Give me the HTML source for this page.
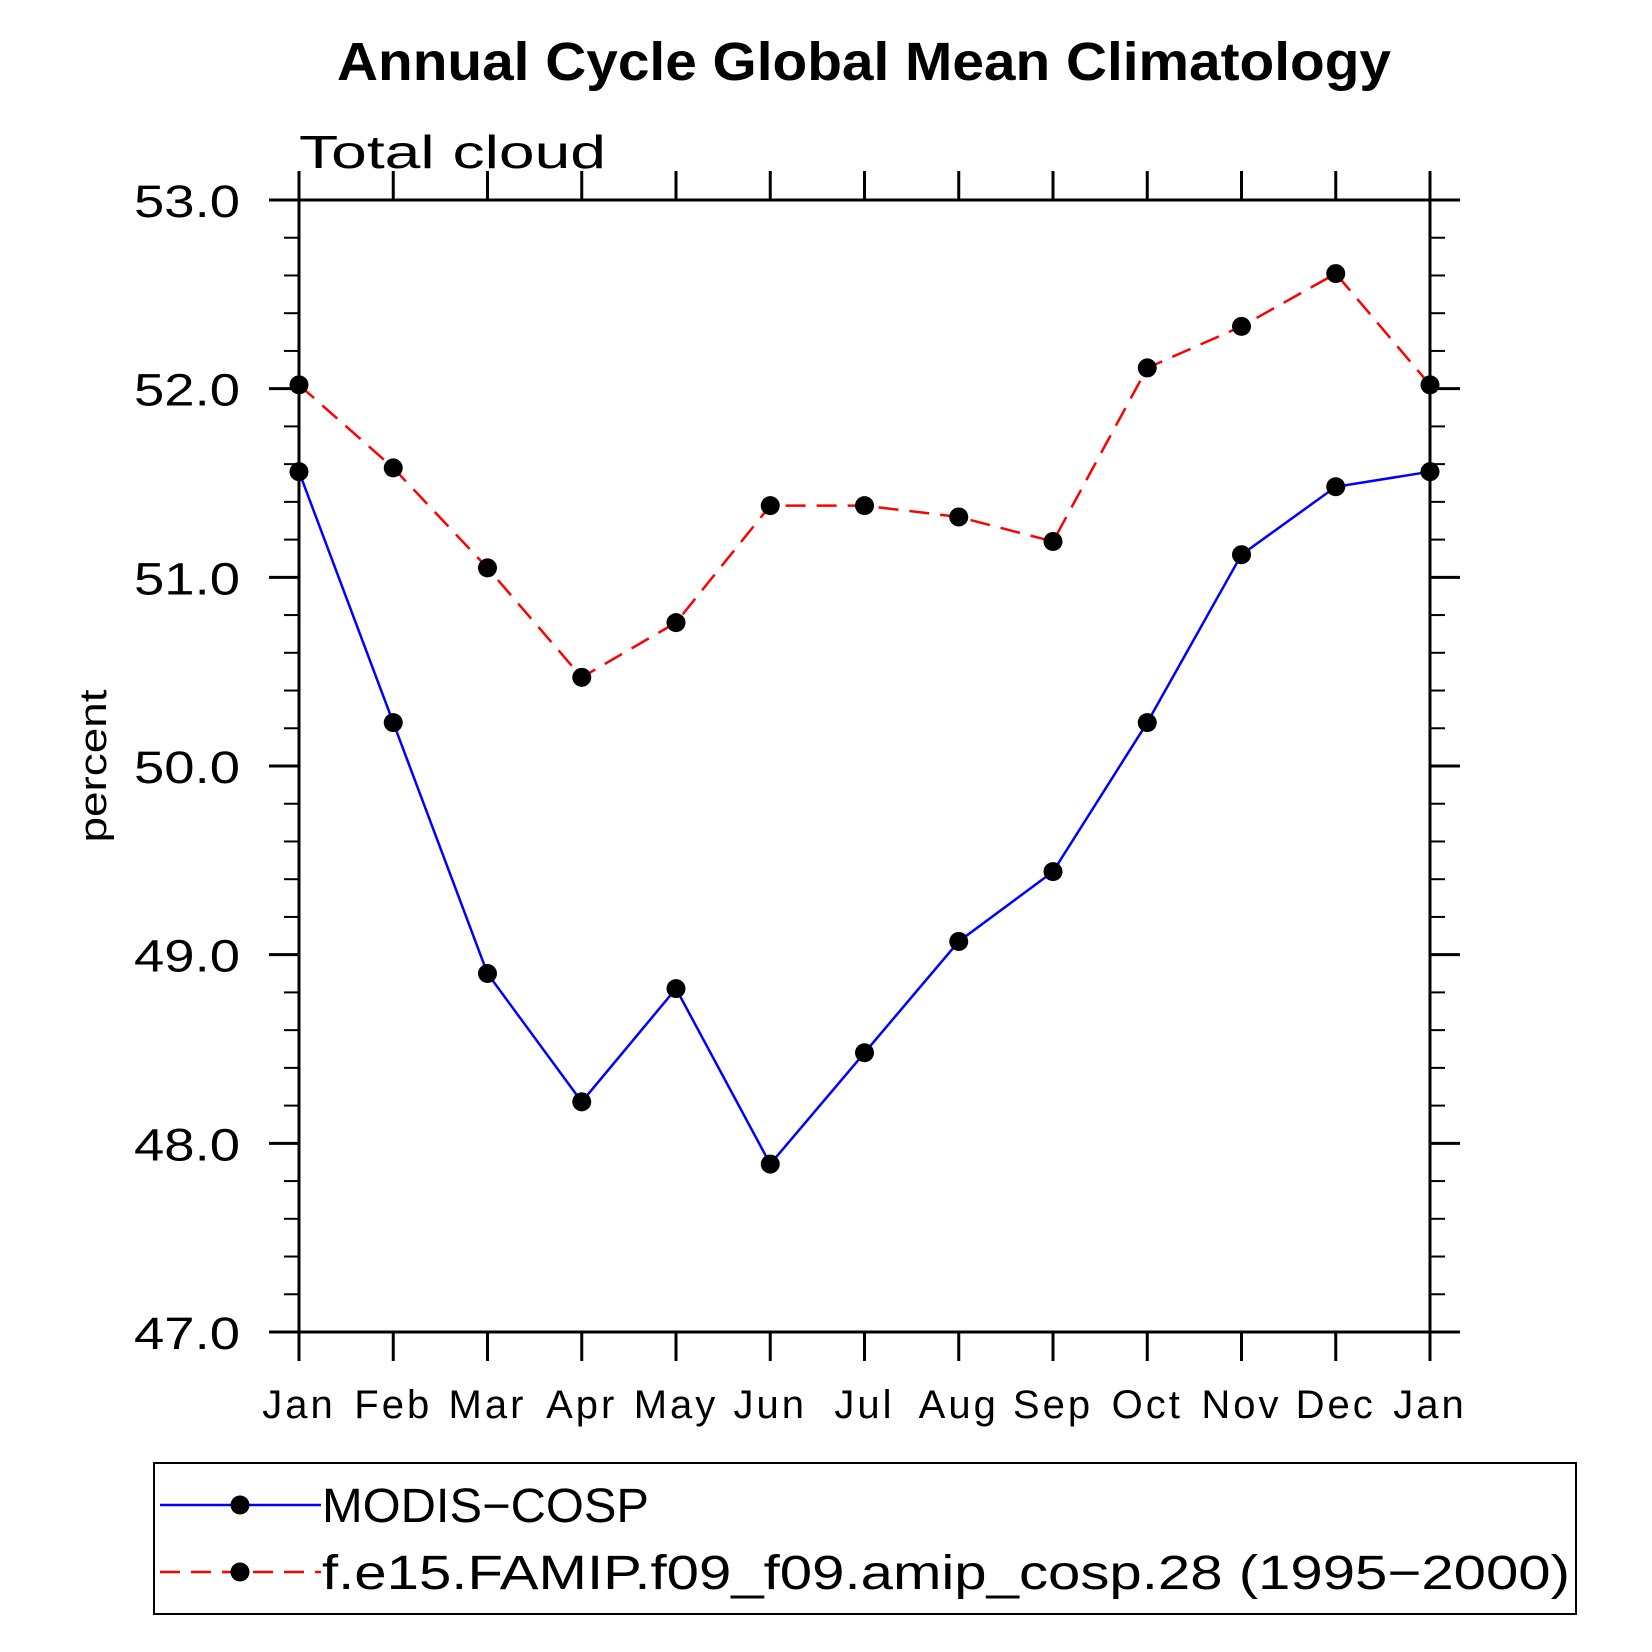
<!DOCTYPE html>
<html><head><style>body{margin:0;background:#fff}svg{display:block}text{font-family:"Liberation Sans",sans-serif}</style></head>
<body>
<svg id="c" width="1652" height="1652" xmlns="http://www.w3.org/2000/svg">
<text x="864" y="80" font-size="54" font-weight="bold" text-anchor="middle" textLength="1054" lengthAdjust="spacingAndGlyphs">Annual Cycle Global Mean Climatology</text>
<text x="299" y="168" font-size="46" font-weight="300" textLength="307" lengthAdjust="spacingAndGlyphs">Total cloud</text>
<text transform="translate(106,766) rotate(-90)" font-size="38" text-anchor="middle" textLength="153" lengthAdjust="spacingAndGlyphs">percent</text>
<g id="ax"></g><g id="ser"></g>
<rect x="154" y="1463" width="1422" height="151" fill="none" stroke="#000" stroke-width="2"/>
<g>
<line x1="160" y1="1505" x2="321" y2="1505" stroke="#00f" stroke-width="2.5"/><circle cx="240" cy="1505" r="9.5"/>
<text x="322" y="1522" font-size="48" font-weight="300" textLength="327" lengthAdjust="spacingAndGlyphs">MODIS−COSP</text></g>
<g>
<line x1="160" y1="1572" x2="321" y2="1572" stroke="#f00" stroke-width="2.5" stroke-dasharray="20,11"/><circle cx="240" cy="1572" r="9.5"/>
<text x="322" y="1589" font-size="48" font-weight="300" textLength="1248" lengthAdjust="spacingAndGlyphs">f.e15.FAMIP.f09_f09.amip_cosp.28 (1995−2000)</text></g>
</svg>
<script>
const months=["Jan","Feb","Mar","Apr","May","Jun","Jul","Aug","Sep","Oct","Nov","Dec","Jan"];
const modis=[51.56,50.23,48.9,48.22,48.82,47.89,48.48,49.07,49.44,50.23,51.12,51.48,51.56];
const model=[52.02,51.58,51.05,50.47,50.76,51.38,51.38,51.32,51.19,52.11,52.33,52.61,52.02];
const yTicks=[47,48,49,50,51,52,53];
const L=299,R=1430,T=200,B=1332,y0=47,y1=53;
const sx=i=>L+(R-L)*i/(months.length-1);
const sy=v=>B-(B-T)*(v-y0)/(y1-y0);
const NS="http://www.w3.org/2000/svg";
function mk(t,a,p){const e=document.createElementNS(NS,t);for(const k in a)e.setAttribute(k,a[k]);p.appendChild(e);return e;}
const ax=document.getElementById('ax');
const frame=mk('rect',{x:L,y:T,width:R-L,height:B-T,fill:'none',stroke:'#000','stroke-width':3},ax);


months.forEach((m,i)=>{const x=sx(i);
mk('line',{x1:x,y1:B,x2:x,y2:B+29,stroke:'#000','stroke-width':3},ax);
mk('line',{x1:x,y1:T,x2:x,y2:T-29,stroke:'#000','stroke-width':3},ax);
const t=mk('text',{x:x,y:B+86,'font-size':40,'font-weight':300,'text-anchor':'middle','letter-spacing':3},ax);t.textContent=m;

});
for(let v=y0;v<=y1+1e-9;v+=0.2){const y=sy(v);const major=Math.abs(v-Math.round(v))<1e-6;const len=major?30:15;
mk('line',{x1:L-len,y1:y,x2:L,y2:y,stroke:'#000','stroke-width':major?3:2},ax);
mk('line',{x1:R,y1:y,x2:R+len,y2:y,stroke:'#000','stroke-width':major?3:2},ax);}
yTicks.forEach(v=>{const t=mk('text',{x:240,y:sy(v)+17,'font-size':45,'font-weight':300,'text-anchor':'end',textLength:106,lengthAdjust:'spacingAndGlyphs'},ax);t.textContent=v.toFixed(1);

});
const ser=document.getElementById('ser');
function draw(d,col,dash,name){const g=mk('g',{},ser);


const p=mk('polyline',{points:d.map((v,i)=>sx(i)+','+sy(v)).join(' '),fill:'none',stroke:col,'stroke-width':2.5},g);
if(dash)p.setAttribute('stroke-dasharray',dash);
d.forEach((v,i)=>{const c=mk('circle',{cx:sx(i),cy:sy(v),r:9.5,fill:'#000'},g);

});}
draw(model,'#f00','20,11','series-model');
draw(modis,'#00f',null,'series-modis');
</script>
</body></html>
